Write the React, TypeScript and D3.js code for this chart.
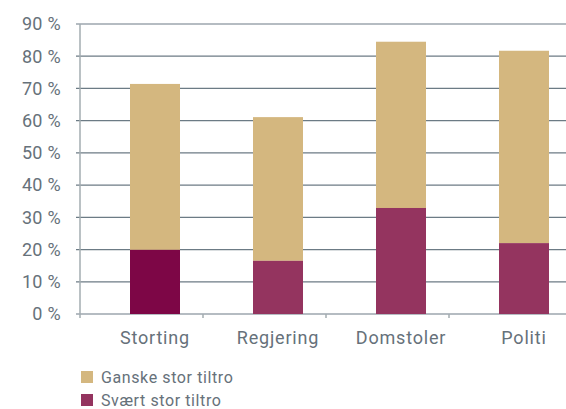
import React from "react";
import * as d3 from "d3";

const categories = ["Storting", "Regjering", "Domstoler", "Politi"];
const svaert = [19.9, 16.5, 32.9, 22.0];
const totals = [71.4, 61.1, 84.5, 81.7];
const yTicks = [0, 10, 20, 30, 40, 50, 60, 70, 80, 90];
const legendLabels = ["Ganske stor tiltro", "Svært stor tiltro"];

const W = 566;
const H = 409;

export default function App() {
  const x = d3.scaleBand<string>().domain(categories).range([80, 572]).padding(0);
  const y = d3.scaleLinear().domain([0, 90]).range([314, 24]);
  const barOffset = 50;
  const barW = 50;
  const tan = "#D4B77F";
  const plum = "#94345F";
  const darkPlum = "#7D0646";
  const textCol = "#66717a";
  const gridCol = "#6c7b85";
  const font = "Roboto, 'DejaVu Sans', sans-serif";

  return (
    <svg
      width={W}
      height={H}
      style={{ position: "fixed", left: 0, top: 0, background: "#fff" }}
      fontFamily={font}
    >
      {yTicks.map((t) => (
        <g key={t}>
          <line x1={76} x2={W} y1={y(t)} y2={y(t)} stroke={gridCol} strokeWidth={1.2} />
          <text x={61} y={y(t)} dy="0.35em" textAnchor="end" fontSize={18} fill={textCol} letterSpacing={0.3}>
            {t} %
          </text>
        </g>
      ))}
      <line x1={80} x2={80} y1={y(90)} y2={318} stroke="#a3acb1" strokeWidth={1.5} />
      {categories.slice(1).map((c) => (
        <line key={c} x1={x(c)!} x2={x(c)!} y1={314} y2={318} stroke="#a3acb1" strokeWidth={1.5} />
      ))}
      {categories.map((c, i) => {
        const bx = x(c)! + barOffset;
        return (
          <g key={c}>
            <rect x={bx} y={y(totals[i])} width={barW} height={y(svaert[i]) - y(totals[i])} fill={tan} />
            <rect
              x={bx}
              y={y(svaert[i])}
              width={barW}
              height={y(0) - y(svaert[i])}
              fill={i === 0 ? darkPlum : plum}
            />
            <text x={bx + barW / 2} y={344} textAnchor="middle" fontSize={18} fill={textCol} letterSpacing={0.8}>
              {c}
            </text>
          </g>
        );
      })}
      {legendLabels.map((l, i) => (
        <g key={l}>
          <rect x={81} y={371 + i * 23} width={12} height={12} fill={i === 0 ? tan : plum} />
          <text x={101} y={377 + i * 23} dy="0.35em" fontSize={16} fill={textCol} letterSpacing={0.6}>
            {l}
          </text>
        </g>
      ))}
    </svg>
  );
}
